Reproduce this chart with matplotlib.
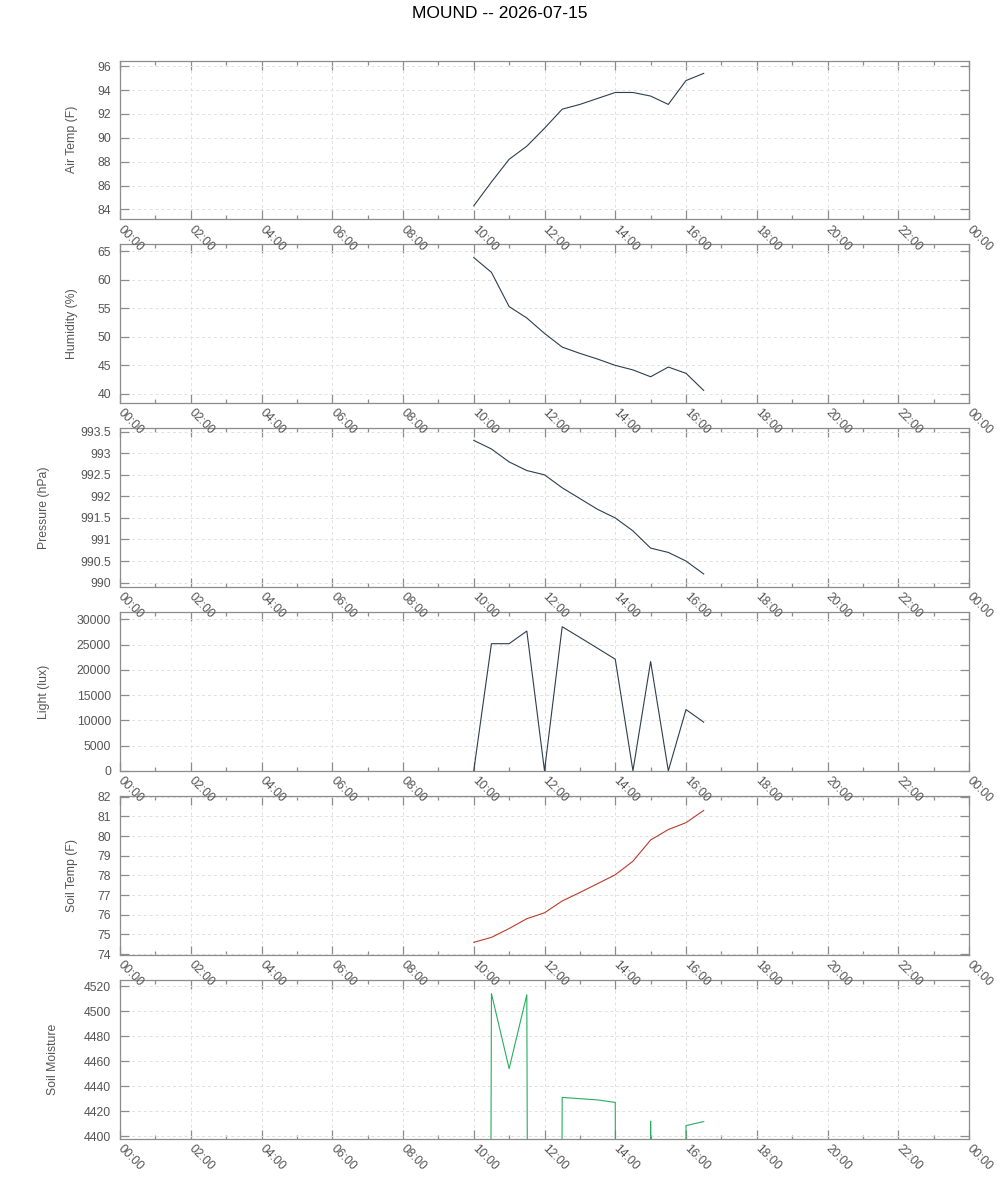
import matplotlib
matplotlib.use('Agg')
import matplotlib.pyplot as plt
from matplotlib.ticker import MultipleLocator, FuncFormatter

plt.rcParams['font.family'] = ['Liberation Sans', 'DejaVu Sans']

# readings every 30 min
times = ['10:00', '10:30', '11:00', '11:30', '12:00', '12:30', '13:00',
         '13:30', '14:00', '14:30', '15:00', '15:30', '16:00', '16:30']
air_temp = [84.3, 86.3, 88.2, 89.3, 90.8, 92.4, 92.8,
            93.3, 93.8, 93.8, 93.5, 92.8, 94.8, 95.4]
humidity = [63.9, 61.3, 55.3, 53.3, 50.6, 48.2, 47.1,
            46.1, 45.0, 44.2, 43.0, 44.7, 43.6, 40.6]
pressure = [993.3, 993.1, 992.8, 992.6, 992.5, 992.2, 991.95,
            991.7, 991.5, 991.2, 990.8, 990.7, 990.5, 990.2]
light = [0, 25200, 25200, 27700, 0, 28560, 26440,
         24290, 22120, 0, 21660, 0, 12140, 9650]
soil_temp = [74.6, 74.85, 75.3, 75.8, 76.1, 76.7, 77.13,
             77.58, 78.03, 78.72, 79.8, 80.33, 80.68, 81.3]
soil_moist = [0, 4514, 4454, 4513, 0, 4431, 4430,
              4429, 4427, 0, 4412, 0, 4408.5, 4411.7]

hours = [int(t[:2]) + int(t[3:]) / 60 for t in times]

# values, ylabel, colour, ylim, ytick step, ylabel centre (px)
panels = [
    (air_temp, 'Air Temp (F)', '#2c3e50', (83.19, 96.48), 2, 72),
    (humidity, 'Humidity (%)', '#2c3e50', (38.4, 66.2), 5, 72),
    (pressure, 'Pressure (hPa)', '#2c3e50', (989.9, 993.58), 0.5, 44),
    (light, 'Light (lux)', '#2c3e50', (0, 31440), 5000, 44),
    (soil_temp, 'Soil Temp (F)', '#c0392b', (73.97, 82.03), 1, 71),
    (soil_moist, 'Soil Moisture', '#27ae60', (4398.1, 4524.8), 20, 52),
]

fig = plt.figure(figsize=(10, 12), dpi=100)
fig.text(0.5, 1 - 13 / 1200, 'MOUND -- 2026-07-15', ha='center', va='center',
         fontsize=12.5, color='black')

W, H = 1000, 1200
spine_col = '#8c8c8c'
text_col = '#555555'

for i, (vals, label, col, ylim, step, lab_x) in enumerate(panels):
    top = 60.5 + 183.9 * i
    h = 158.6
    ax = fig.add_axes([120 / W, 1 - (top + h) / H, 849 / W, h / H])
    ax.set_zorder(10 - i)  # keep rotated time labels above the next panel
    ax.plot(hours, vals, color=col, lw=0.8)
    ax.set_xlim(0, 24)
    ax.set_ylim(*ylim)

    ax.xaxis.set_major_locator(MultipleLocator(2))
    ax.xaxis.set_minor_locator(MultipleLocator(1))
    ax.xaxis.set_major_formatter(FuncFormatter(lambda v, p: '%02d:00' % (int(round(v)) % 24)))
    ax.yaxis.set_major_locator(MultipleLocator(step))
    ax.yaxis.set_major_formatter(FuncFormatter(lambda v, p: '%g' % round(v, 3)))

    ax.tick_params(axis='both', which='both', direction='in', top=True, right=True,
                   colors=spine_col, labelcolor=text_col, labelsize=8.8, width=0.9)
    ax.tick_params(axis='both', which='major', length=6.5)
    ax.tick_params(axis='x', which='minor', length=3.2)
    ax.tick_params(axis='y', which='major', pad=6.5)
    ax.tick_params(axis='x', which='major', pad=6)
    for lab in ax.get_xticklabels():
        lab.set_rotation(-45)
        lab.set_ha('left')
        lab.set_va('center')
        lab.set_rotation_mode('anchor')

    for s in ax.spines.values():
        s.set_color(spine_col)
        s.set_linewidth(0.9)

    ax.grid(True, which='major', color='#e0e0e0', linestyle=(0, (3, 3)), lw=0.7)
    ax.set_axisbelow(True)
    ax.set_ylabel(label, color=text_col, fontsize=8.8)
    ax.yaxis.set_label_coords((lab_x + 6.5 - 120) / 849, 0.5)

fig.savefig('out.png', dpi=100)
